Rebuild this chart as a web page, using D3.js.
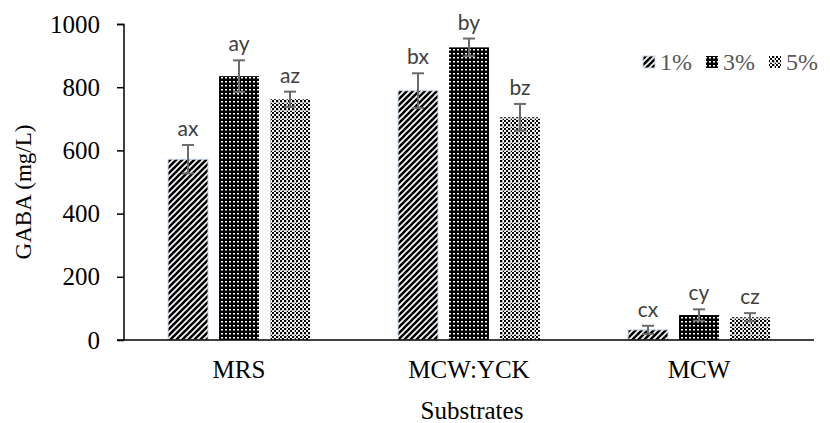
<!DOCTYPE html>
<html><head><meta charset="utf-8">
<script src="https://cdn.jsdelivr.net/npm/d3@7"></script>
<style>html,body{margin:0;padding:0;background:#fff;}</style>
</head><body>
<svg id="c" width="830" height="423"></svg>
<script>
const categories = ["MRS", "MCW:YCK", "MCW"];
const seriesNames = ["1%", "3%", "5%"];
const values1 = [572, 789, 32];
const values3 = [835, 926, 79];
const values5 = [762, 705, 72];
const errors1 = [45, 55, 13];
const errors3 = [50, 28, 18];
const errors5 = [24, 42, 13];
const letters1 = ["ax", "bx", "cx"];
const letters3 = ["ay", "by", "cy"];
const letters5 = ["az", "bz", "cz"];
const yTicks = [0, 200, 400, 600, 800, 1000];

const serif = "'Liberation Serif', 'Times New Roman', serif";
const svg = d3.select("#c");
const defs = svg.append("defs");
// 1% diagonal stripes
const p1 = defs.append("pattern").attr("id","p1").attr("patternUnits","userSpaceOnUse").attr("width",6).attr("height",6);
p1.append("rect").attr("width",6).attr("height",6).attr("fill","#fff");
p1.append("path").attr("d","M-1,7 L7,-1 M-4,4 L4,-4 M2,10 L10,2").attr("stroke","#000").attr("stroke-width",2.6);
// 3% black with white dots
const p3 = defs.append("pattern").attr("id","p3").attr("patternUnits","userSpaceOnUse").attr("width",4).attr("height",4);
p3.append("rect").attr("width",4).attr("height",4).attr("fill","#000");
p3.append("rect").attr("x",1).attr("y",1).attr("width",2).attr("height",1.5).attr("fill","#fff");
// 5% checker with white crosses
const p5 = defs.append("pattern").attr("id","p5").attr("patternUnits","userSpaceOnUse").attr("width",8).attr("height",8);
p5.append("rect").attr("width",8).attr("height",8).attr("fill","#fff");
for (let i=0;i<4;i++) for (let j=0;j<4;j++) if ((i+j)%2===0)
  p5.append("rect").attr("x",i*2).attr("y",j*2).attr("width",2).attr("height",2).attr("fill","#000");
p5.append("rect").attr("x",6).attr("y",0).attr("width",1).attr("height",8).attr("fill","#bbb");
p5.append("rect").attr("x",0).attr("y",6).attr("width",8).attr("height",1).attr("fill","#bbb");

const fills = ["url(#p1)", "url(#p3)", "url(#p5)"];

const y = d3.scaleLinear().domain([0, 1000]).range([340, 24]);
const x0 = d3.scaleBand().domain(categories).range([124, 814]).paddingInner(0.383).paddingOuter(0.1915);
const x1 = d3.scaleBand().domain(seriesNames).range([0, x0.bandwidth()]).paddingInner(0.216).paddingOuter(0);

const data = [];
categories.forEach((c, i) => {
  [[values1, errors1, letters1], [values3, errors3, letters3], [values5, errors5, letters5]].forEach((s, k) => {
    data.push({cat: c, ser: seriesNames[k], k, v: s[0][i], e: s[1][i], l: s[2][i]});
  });
});

// bars
svg.append("g").selectAll("rect").data(data).join("rect")
  .attr("x", d => x0(d.cat) + x1(d.ser))
  .attr("y", d => y(d.v))
  .attr("width", x1.bandwidth())
  .attr("height", d => y(0) - y(d.v))
  .attr("fill", d => fills[d.k])
  .attr("stroke", d => d.k === 0 ? "#c9d6ec" : "none")
  .attr("stroke-width", 1);

// error bars
const eg = svg.append("g").attr("stroke", "#6b6b6b").attr("stroke-width", 2).attr("fill", "none");
data.forEach(d => {
  const cx = x0(d.cat) + x1(d.ser) + x1.bandwidth() / 2;
  eg.append("line").attr("x1", cx).attr("x2", cx).attr("y1", y(d.v + d.e)).attr("y2", y(d.v - d.e));
  eg.append("line").attr("x1", cx - 6).attr("x2", cx + 6).attr("y1", y(d.v + d.e)).attr("y2", y(d.v + d.e));
  eg.append("line").attr("x1", cx - 6).attr("x2", cx + 6).attr("y1", y(d.v - d.e)).attr("y2", y(d.v - d.e));
});

// letters
svg.append("g").selectAll("text").data(data).join("text")
  .attr("x", d => x0(d.cat) + x1(d.ser) + x1.bandwidth() / 2)
  .attr("y", d => y(d.v + d.e) - 9)
  .attr("text-anchor", "middle")
  .attr("font-family", "Lato, 'Open Sans', sans-serif")
  .attr("font-size", 21)
  .attr("fill", "#404040")
  .text(d => d.l);

// y axis
const yAxis = svg.append("g").attr("transform", "translate(124,0)")
  .call(d3.axisLeft(y).tickValues(yTicks).tickSize(7).tickPadding(17).tickFormat(d3.format("d")));
yAxis.select(".domain").attr("stroke", "#000").attr("stroke-width", 1.5).attr("d", "M-7,24.5H0V340");
yAxis.selectAll(".tick line").attr("stroke", "#000").attr("stroke-width", 1.5);
yAxis.selectAll("text").attr("font-family", serif).attr("font-size", 25).attr("fill", "#000");

// x axis
const xAxis = svg.append("g").attr("transform", "translate(0,340)")
  .call(d3.axisBottom(x0).tickSize(0).tickPadding(20));
xAxis.select(".domain").attr("stroke", "#000").attr("stroke-width", 1.5).attr("d", "M117,0H814");
xAxis.selectAll("text").attr("font-family", serif).attr("font-size", 25).attr("fill", "#000");

// axis titles
svg.append("text").attr("transform", "translate(31,192) rotate(-90)")
  .attr("text-anchor", "middle")
  .attr("font-family", serif).attr("font-size", 23).attr("fill", "#000")
  .text("GABA (mg/L)");
svg.append("text").attr("x", 472).attr("y", 419)
  .attr("text-anchor", "middle")
  .attr("font-family", serif).attr("font-size", 25).attr("fill", "#000")
  .text("Substrates");

// legend
const legX = [643, 706, 769];
const lg = svg.append("g");
seriesNames.forEach((s, k) => {
  lg.append("rect").attr("x", legX[k]).attr("y", 56).attr("width", 12).attr("height", 12).attr("fill", fills[k])
    .attr("stroke", k === 0 ? "#c9d6ec" : "none");
  lg.append("text").attr("x", legX[k] + 17).attr("y", 70)
    .attr("font-family", serif).attr("font-size", 24).attr("fill", "#595959")
    .text(s);
});
</script>
</body></html>
